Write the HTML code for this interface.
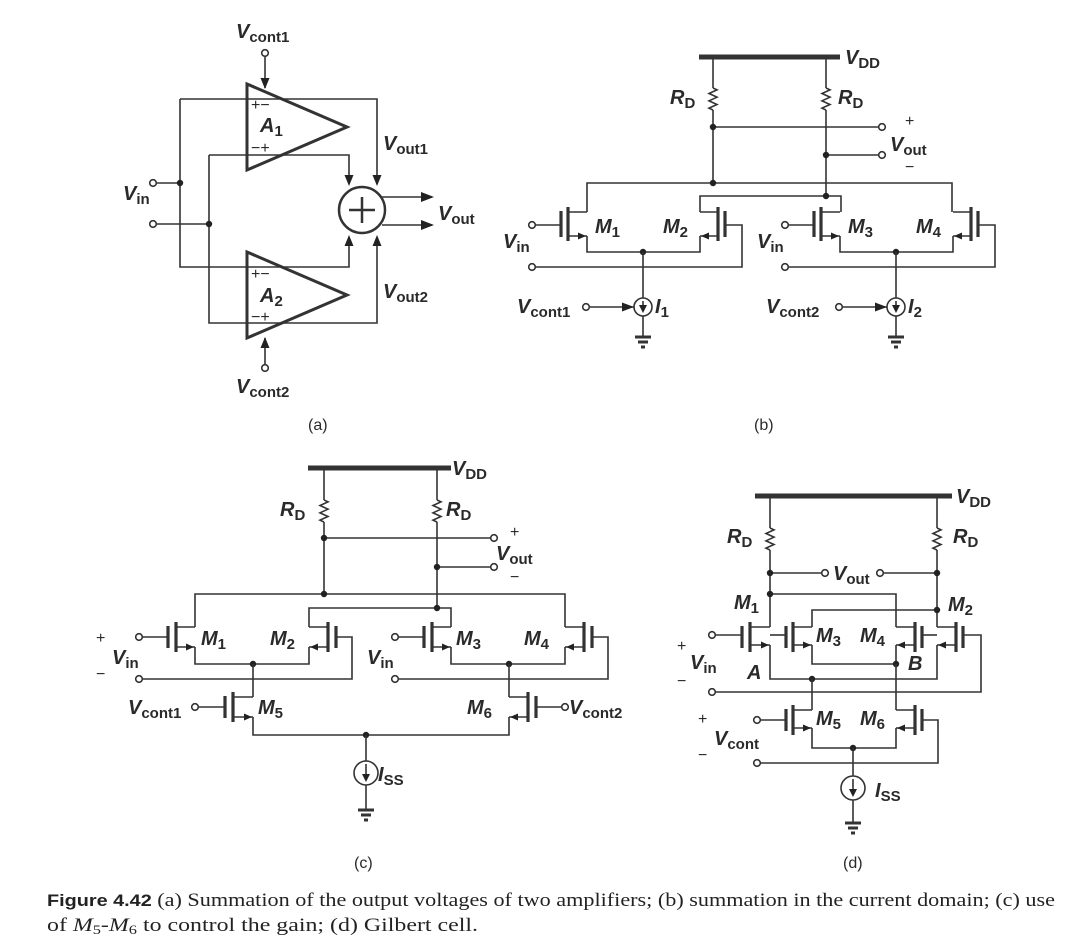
<!DOCTYPE html>
<html><head><meta charset="utf-8"><style>
html,body{margin:0;padding:0;background:#fff}
svg{display:block}
text{font-family:"Liberation Sans",sans-serif;font-weight:bold;fill:#2a2a2a}
.v{font-style:italic;font-size:20px}
.s{font-style:normal;font-size:15px}
.l{font-weight:normal;font-size:16px}
.cap{font-family:"Liberation Serif",serif;font-weight:normal;font-size:19px;fill:#222}
</style></head><body>
<svg id="S" width="1091" height="949" viewBox="0 0 1091 949" xmlns="http://www.w3.org/2000/svg">
<g id="G" stroke="#333" stroke-width="1.6" fill="none"></g>
<!-- panel a text -->
<text x="236" y="38" class="v">V<tspan class="s" dy="4">cont1</tspan></text>
<text x="236" y="393" class="v">V<tspan class="s" dy="4">cont2</tspan></text>
<text x="123" y="200" class="v">V<tspan class="s" dy="4">in</tspan></text>
<text x="383" y="150" class="v">V<tspan class="s" dy="4">out1</tspan></text>
<text x="383" y="298" class="v">V<tspan class="s" dy="4">out2</tspan></text>
<text x="438" y="220" class="v">V<tspan class="s" dy="4">out</tspan></text>
<text x="260" y="132" class="v">A<tspan class="s" dy="4">1</tspan></text>
<text x="260" y="302" class="v">A<tspan class="s" dy="4">2</tspan></text>
<text x="251" y="110" class="l">+−</text><text x="251" y="153" class="l">−+</text>
<text x="251" y="279" class="l">+−</text><text x="251" y="322" class="l">−+</text>
<text x="308" y="430" class="l">(a)</text>
<!-- panel b -->
<text x="845" y="64" class="v">V<tspan class="s" font-style="italic" dy="4">DD</tspan></text>
<text x="670" y="104" class="v">R<tspan class="s" dy="4">D</tspan></text>
<text x="838" y="104" class="v">R<tspan class="s" dy="4">D</tspan></text>
<text x="905" y="126" class="l" font-size="13">+</text>
<text x="890" y="151" class="v">V<tspan class="s" dy="4">out</tspan></text>
<text x="905" y="172" class="l">−</text>
<text x="595" y="233" class="v">M<tspan class="s" dy="4">1</tspan></text>
<text x="663" y="233" class="v">M<tspan class="s" dy="4">2</tspan></text>
<text x="848" y="233" class="v">M<tspan class="s" dy="4">3</tspan></text>
<text x="916" y="233" class="v">M<tspan class="s" dy="4">4</tspan></text>
<text x="503" y="248" class="v">V<tspan class="s" dy="4">in</tspan></text>
<text x="757" y="248" class="v">V<tspan class="s" dy="4">in</tspan></text>
<text x="517" y="313" class="v">V<tspan class="s" dy="4">cont1</tspan></text>
<text x="766" y="313" class="v">V<tspan class="s" dy="4">cont2</tspan></text>
<text x="655" y="313" class="v">I<tspan class="s" dy="4">1</tspan></text>
<text x="908" y="313" class="v">I<tspan class="s" dy="4">2</tspan></text>
<text x="754" y="430" class="l">(b)</text>
<!-- panel c -->
<text x="452" y="475" class="v">V<tspan class="s" font-style="italic" dy="4">DD</tspan></text>
<text x="280" y="516" class="v">R<tspan class="s" dy="4">D</tspan></text>
<text x="446" y="516" class="v">R<tspan class="s" dy="4">D</tspan></text>
<text x="510" y="537" class="l">+</text>
<text x="496" y="560" class="v">V<tspan class="s" dy="4">out</tspan></text>
<text x="510" y="582" class="l">−</text>
<text x="96" y="643" class="l">+</text>
<text x="112" y="664" class="v">V<tspan class="s" dy="4">in</tspan></text>
<text x="96" y="679" class="l">−</text>
<text x="201" y="645" class="v">M<tspan class="s" dy="4">1</tspan></text>
<text x="270" y="645" class="v">M<tspan class="s" dy="4">2</tspan></text>
<text x="456" y="645" class="v">M<tspan class="s" dy="4">3</tspan></text>
<text x="524" y="645" class="v">M<tspan class="s" dy="4">4</tspan></text>
<text x="367" y="664" class="v">V<tspan class="s" dy="4">in</tspan></text>
<text x="128" y="714" class="v">V<tspan class="s" dy="4">cont1</tspan></text>
<text x="258" y="714" class="v">M<tspan class="s" dy="4">5</tspan></text>
<text x="467" y="714" class="v">M<tspan class="s" dy="4">6</tspan></text>
<text x="569" y="714" class="v">V<tspan class="s" dy="4">cont2</tspan></text>
<text x="378" y="781" class="v">I<tspan class="s" dy="4">SS</tspan></text>
<text x="354" y="868" class="l">(c)</text>
<!-- panel d -->
<text x="956" y="503" class="v">V<tspan class="s" font-style="italic" dy="4">DD</tspan></text>
<text x="727" y="543" class="v">R<tspan class="s" dy="4">D</tspan></text>
<text x="953" y="543" class="v">R<tspan class="s" dy="4">D</tspan></text>
<text x="833" y="580" class="v">V<tspan class="s" dy="4">out</tspan></text>
<text x="734" y="609" class="v">M<tspan class="s" dy="4">1</tspan></text>
<text x="948" y="611" class="v">M<tspan class="s" dy="4">2</tspan></text>
<text x="816" y="642" class="v">M<tspan class="s" dy="4">3</tspan></text>
<text x="860" y="642" class="v">M<tspan class="s" dy="4">4</tspan></text>
<text x="677" y="651" class="l">+</text>
<text x="690" y="669" class="v">V<tspan class="s" dy="4">in</tspan></text>
<text x="677" y="686" class="l">−</text>
<text x="747" y="679" class="v">A</text>
<text x="908" y="670" class="v">B</text>
<text x="698" y="724" class="l">+</text>
<text x="714" y="745" class="v">V<tspan class="s" dy="4">cont</tspan></text>
<text x="698" y="760" class="l">−</text>
<text x="816" y="725" class="v">M<tspan class="s" dy="4">5</tspan></text>
<text x="860" y="725" class="v">M<tspan class="s" dy="4">6</tspan></text>
<text x="875" y="797" class="v">I<tspan class="s" dy="4">SS</tspan></text>
<text x="843" y="868" class="l">(d)</text>
<!-- caption -->
<text x="47" y="906" class="cap" textLength="1008" lengthAdjust="spacingAndGlyphs"><tspan font-family="Liberation Sans" font-weight="bold" font-size="17">Figure 4.42</tspan>   (a) Summation of the output voltages of two amplifiers; (b) summation in the current domain; (c) use</text>
<text x="47" y="931" class="cap" textLength="431" lengthAdjust="spacingAndGlyphs">of <tspan font-style="italic">M</tspan><tspan font-size="13" dy="3">5</tspan><tspan dy="-3">-</tspan><tspan font-style="italic">M</tspan><tspan font-size="13" dy="3">6</tspan><tspan dy="-3"> to control the gain; (d) Gilbert cell.</tspan></text>
</svg>
<script>
const G=document.getElementById('G');const NS='http://www.w3.org/2000/svg';
function el(t,a){const e=document.createElementNS(NS,t);for(const k in a)e.setAttribute(k,a[k]);G.appendChild(e);return e;}
function P(d,w){el('path',{d:d,'stroke-width':w||1.6});}
function dot(x,y){el('circle',{cx:x,cy:y,r:3.2,fill:'#222',stroke:'none'});}
function oc(x,y){el('circle',{cx:x,cy:y,r:3.3,fill:'#fff'});}
function ah(x,y,dir,L,W){L=L||11;W=W||4.5;let p;
 if(dir=='r')p=[[x,y],[x-L,y-W],[x-L,y+W]];if(dir=='l')p=[[x,y],[x+L,y-W],[x+L,y+W]];
 if(dir=='d')p=[[x,y],[x-W,y-L],[x+W,y-L]];if(dir=='u')p=[[x,y],[x-W,y+L],[x+W,y+L]];
 el('polygon',{points:p.map(q=>q.join(',')).join(' '),fill:'#222',stroke:'none'});}
function T(tx,chx,gx,yt,yb,yd,ys){
 P(`M${chx} ${yt}V${yb}`,3.2);P(`M${gx} ${yt+4}V${yb-4}`,3.2);
 P(`M${chx} ${yd}H${tx}M${chx} ${ys}H${tx}`);
 ah(tx>chx?tx-1:tx+1,ys,tx>chx?'r':'l',8,3.5);}
function R(x,y1,y2){let n=6,h=(y2-y1)/n,d=`M${x} ${y1}`;for(let i=0;i<n;i++){d+=`L${x+(i%2?-4:4)} ${y1+h*(i+.5)}`;}d+=`L${x} ${y2}`;P(d);}
function gnd(x,y){P(`M${x} ${y-14}V${y}`);P(`M${x-8} ${y}H${x+8}`,3);P(`M${x-5} ${y+5}H${x+5}`,3);P(`M${x-2} ${y+10}H${x+2}`,3);}
function I(x,y,r){el('circle',{cx:x,cy:y,r:r});P(`M${x} ${y-r+3}V${y+2}`);ah(x,y+r-3,'d',8,4);}

/* panel a */
el('polygon',{points:'247,84 347,127 247,170','stroke-width':3});
el('polygon',{points:'247,252 347,295 247,338','stroke-width':3});
P('M180 99H377V184M180 99V267H349V241M209 155H349V184M209 155V323H377V241');
P('M156 183H180M156 224H209');oc(153,183);oc(153,224);dot(180,183);dot(209,224);
el('circle',{cx:362,cy:210,r:23,'stroke-width':2.5});P('M362 197V223M349 210H375',2.5);
ah(349,186,'d');ah(377,186,'d');ah(349,235,'u');ah(377,235,'u');
P('M382 197H432M382 225H432');ah(434,197,'r',13,5);ah(434,225,'r',13,5);
oc(265,53);P('M265 57V88');ah(265,89,'d');oc(265,368);P('M265 364V338');ah(265,337,'u');

/* panel b */
P('M699 57H840',5);
for(const o of [0,253]){
 T(587+o,568+o,561+o,207,241,212,236);T(700+o,718+o,725+o,207,241,212,236);
 P(`M${535+o} 225H${561+o}`);
 P(`M${587+o} 236V252H${700+o}V236`);P(`M${725+o} 225H${742+o}V267H${535+o}`);
 oc(532+o,225);oc(532+o,267);dot(643+o,252);
 P(`M${643+o} 252V298`);I(643+o,307,9);gnd(643+o,337);P(`M${643+o} 316V323`);
 oc(586+o,307);P(`M${590+o} 307H${634+o}`);ah(634+o,307,'r',12,4.5);
}
P('M713 57V88');R(713,88,110);P('M713 110V183');P('M826 57V88');R(826,88,110);P('M826 110V196');
P('M713 127H879M826 155H879');oc(882,127);oc(882,155);dot(713,127);dot(826,155);
P('M587 212V183H952V212M700 212V196H841V212');dot(713,183);dot(826,196);

/* panel c */
P('M308 468H451',5);
P('M324 468V500');R(324,500,522);P('M324 522V594');P('M437 468V500');R(437,500,522);P('M437 522V608');
P('M324 538H491M437 567H491');oc(494,538);oc(494,567);dot(324,538);dot(437,567);
P('M195 627V594H565V627M309 627V608H451V627');dot(324,594);dot(437,608);
for(const o of [0,256]){
 T(195+o,176+o,168+o,622,652,627,647);T(309+o,328+o,336+o,622,652,627,647);
 P(`M${142+o} 637H${168+o}`);oc(139+o,637);
 P(`M${195+o} 647V664H${309+o}V647`);P(`M${336+o} 637H${352+o}V679H${142+o}`);oc(139+o,679);
 dot(253+o,664);
}
T(253,233,225,692,722,697,717);P('M198 707H225');oc(195,707);P('M253 664V697M253 717V735H509V717');
T(509,528,536,692,722,697,717);P('M536 707H562');oc(565,707);P('M509 664V697');
dot(366,735);P('M366 735V761');I(366,773,12);P('M366 785V796');gnd(366,810);

/* panel d */
P('M755 496H952',5);
P('M770 496V528');R(770,528,550);P('M770 550V627');P('M937 496V528');R(937,528,550);P('M937 550V627');
P('M770 573H822M937 573H883');oc(825,573);oc(880,573);dot(770,573);dot(937,573);
P('M770 594H896V627');dot(770,594);P('M812 627V610H937');dot(937,610);
T(770,750,742,622,652,627,645);P('M715 635H742');oc(712,635);
T(812,793,786,622,652,627,645);P('M770 635H786');
T(896,915,922,622,652,627,645);P('M922 635H937');
T(937,956,963,622,652,627,645);P('M963 635H981V692H715');oc(712,692);
P('M770 645V679H937V645');dot(812,679);
P('M812 645V664H896V645');dot(896,664);
P('M812 679V710');P('M896 664V710');
T(812,793,786,705,735,710,728);P('M760 720H786');oc(757,720);
T(896,915,922,705,735,710,728);P('M922 720H938V763H760');oc(757,763);
P('M812 728V748H896V728');dot(853,748);P('M853 748V776');I(853,788,12);P('M853 800V809');gnd(853,823);
</script>
</body></html>
